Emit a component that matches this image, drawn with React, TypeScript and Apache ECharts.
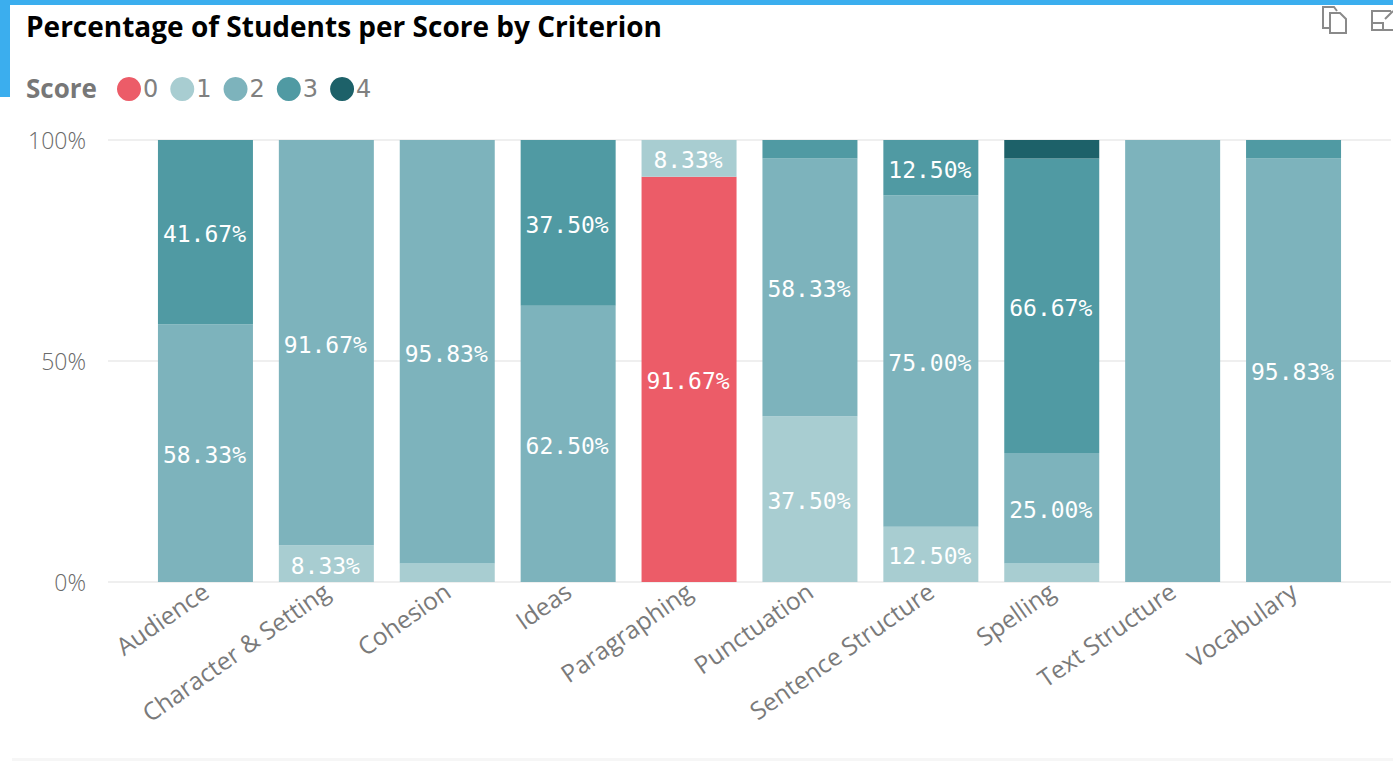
import React, { useEffect, useRef } from "react";
import * as echarts from "echarts";

const titleText = "Percentage of Students per Score by Criterion";
const categories = ["Audience", "Character & Setting", "Cohesion", "Ideas", "Paragraphing", "Punctuation", "Sentence Structure", "Spelling", "Text Structure", "Vocabulary"];
const score0 = [0, 0, 0, 0, 91.67, 0, 0, 0, 0, 0];
const score1 = [0, 8.33, 4.17, 0, 8.33, 37.5, 12.5, 4.17, 0, 0];
const score2 = [58.33, 91.67, 95.83, 62.5, 0, 58.33, 75, 25, 100, 95.83];
const score3 = [41.67, 0, 0, 37.5, 0, 4.17, 12.5, 66.67, 0, 4.17];
const score4 = [0, 0, 0, 0, 0, 0, 0, 4.17, 0, 0];
const scoreNames = ["0", "1", "2", "3", "4"];
const scoreValues = [score0, score1, score2, score3, score4];
const scoreColors = ["#EC5C68", "#A8CDD1", "#7DB3BC", "#509AA3", "#1D6169"];

echarts.graphic.registerShape("copyIcon", echarts.graphic.extendPath("M8 22L1 22L1 1L12 1L15 5M8 7L18 7L24 13L24 27L8 27Z", {}));
echarts.graphic.registerShape("expandIcon", echarts.graphic.extendPath("M20 1L1 1L1 20L24 20L24 12M1 13L12 13L12 20M14 9L22 1", {}));

export default function App() {
  const ref = useRef<HTMLDivElement>(null);
  useEffect(() => {
    const chart = echarts.init(ref.current!, undefined, { renderer: "svg" });
    chart.setOption({
      animation: false,
      backgroundColor: "#ffffff",
      legend: {
        left: 112, top: 72, itemWidth: 24, itemHeight: 24, itemGap: 12, icon: "circle",
        data: scoreNames, selectedMode: false,
        textStyle: { fontFamily: "DejaVu Sans", fontSize: 24, color: "#808080", padding: [0, 0, 0, -3] },
      },
      grid: [
        { left: 145, width: 1209, top: 140, height: 442 },
        { left: 108, width: 1283, top: 140, height: 442 },
      ],
      xAxis: [
        {
          type: "category", gridIndex: 0, data: categories,
          axisLine: { show: false }, axisTick: { show: false },
          axisLabel: { rotate: 35, interval: 0, margin: 6, fontFamily: "Open Sans", fontSize: 24.5, color: "#7a7a7a" },
        },
        { type: "category", gridIndex: 1, data: categories, show: false },
      ],
      yAxis: [
        { type: "value", gridIndex: 0, min: 0, max: 100, show: false },
        {
          type: "value", gridIndex: 1, min: 0, max: 100, interval: 50,
          axisLine: { show: false }, axisTick: { show: false },
          splitLine: { lineStyle: { color: "#efefef", width: 2 } },
          axisLabel: { formatter: "{value}%", margin: 22, fontFamily: "Open Sans", fontWeight: 300, fontSize: 23, color: "#6a6a6a" },
        },
      ],
      series: scoreNames.map((name, i) => ({
        name, type: "bar", stack: "score", xAxisIndex: 0, yAxisIndex: 0, barWidth: 95,
        data: scoreValues[i],
        itemStyle: { color: scoreColors[i] },
        label: {
          show: true, position: "inside", offset: [-1, 2],
          fontFamily: "DejaVu Sans Mono", fontSize: 23, color: "#ffffff",
          formatter: (p: any) => (p.value >= 8 && p.value < 100 ? p.value.toFixed(2) + "%" : ""),
        },
      })),
      graphic: [
        { type: "rect", shape: { x: 0, y: 0, width: 1393, height: 5 }, style: { fill: "#3BAEEE" } },
        { type: "rect", shape: { x: 0, y: 0, width: 10, height: 97 }, style: { fill: "#3BAEEE" } },
        { type: "rect", shape: { x: 12, y: 758, width: 1381, height: 3 }, style: { fill: "#f6f6f6" } },
        { type: "text", x: 26, y: 12, style: { text: titleText, fontFamily: "Open Sans", fontWeight: 700, fontSize: 28, fill: "#000000" } },
        { type: "text", x: 26, y: 75, style: { text: "Score", fontFamily: "Open Sans", fontWeight: 700, fontSize: 26, fill: "#777777" } },
        { type: "copyIcon", x: 1322, y: 6, style: { fill: "none", stroke: "#8a8a8a", lineWidth: 2 } },
        { type: "expandIcon", x: 1371, y: 10, style: { fill: "none", stroke: "#8a8a8a", lineWidth: 2 } },
      ],
    });
    return () => chart.dispose();
  }, []);
  return <div ref={ref} style={{ position: "absolute", left: 0, top: 0, width: 1393, height: 761 }} />;
}
